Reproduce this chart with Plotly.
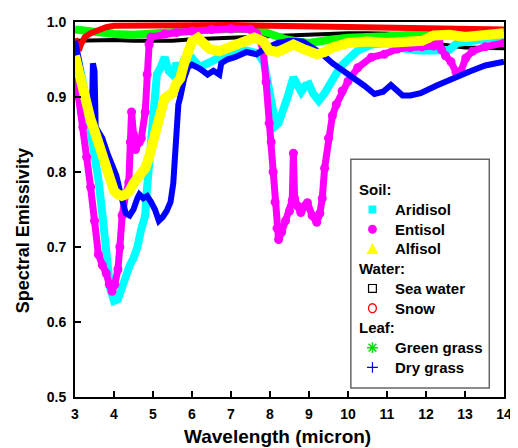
import plotly.graph_objects as go

# ---------------- data ----------------
aridisol_x = [3.0, 3.1, 3.2, 3.3, 3.4, 3.5, 3.6, 3.7, 3.8, 3.9, 4.0, 4.1, 4.2, 4.3, 4.4, 4.5, 4.6,
              4.7, 4.8, 4.85, 4.9, 4.95, 5.0, 5.1, 5.2, 5.3, 5.4, 5.5, 5.6, 5.7, 5.8, 6.0, 6.2,
              6.4, 6.6, 6.8, 7.0, 7.4, 7.7, 7.85, 7.95, 8.05, 8.15, 8.22, 8.3, 8.45, 8.6, 8.7,
              8.8, 8.9, 9.0, 9.1, 9.25, 9.4, 9.6, 9.8, 10.0, 10.25, 10.6, 11.0, 11.4, 11.8,
              12.2, 12.6, 12.8, 13.2, 13.6, 14.0]
aridisol_y = [0.96, 0.945, 0.92, 0.89, 0.86, 0.83, 0.79, 0.745, 0.69, 0.645, 0.628, 0.63, 0.645,
              0.663, 0.675, 0.685, 0.70, 0.724, 0.742, 0.78, 0.81, 0.85, 0.89, 0.93, 0.94, 0.953,
              0.935, 0.93, 0.945, 0.935, 0.95, 0.952, 0.94, 0.945, 0.95, 0.957, 0.96, 0.962,
              0.958, 0.945, 0.92, 0.895, 0.862, 0.865, 0.88, 0.90, 0.926, 0.915, 0.907, 0.915,
              0.917, 0.905, 0.895, 0.905, 0.925, 0.94, 0.95, 0.962, 0.97, 0.972, 0.965, 0.962,
              0.962, 0.963, 0.972, 0.976, 0.978, 0.98]

entisol_x = [3.0, 3.1, 3.2, 3.3, 3.4, 3.5, 3.6, 3.7, 3.8, 3.88, 3.95, 4.02, 4.1, 4.15, 4.21, 4.3,
             4.38, 4.42, 4.45, 4.5, 4.55, 4.65, 4.7, 4.8, 4.85, 4.9, 4.95, 5.3, 5.6, 6.0, 6.5,
             7.0, 7.5, 7.65, 7.75, 7.83, 7.9, 7.98, 8.03, 8.08, 8.13, 8.18, 8.22, 8.3, 8.4,
             8.5, 8.57, 8.6, 8.63, 8.7, 8.79, 8.9, 8.96, 9.08, 9.2, 9.28, 9.34, 9.4, 9.5, 9.6,
             9.7, 9.85, 10.0, 10.25, 10.6, 10.93, 11.26, 11.6, 11.9, 12.2, 12.33, 12.4, 12.5,
             12.64, 12.77, 12.9, 13.02, 13.19, 13.52, 14.0]
entisol_y = [0.935, 0.90, 0.86, 0.82, 0.78, 0.735, 0.69, 0.676, 0.665, 0.65, 0.641, 0.65, 0.67,
             0.70, 0.742, 0.77, 0.786, 0.84, 0.88, 0.85, 0.83, 0.84, 0.845, 0.88, 0.93, 0.97,
             0.98, 0.984, 0.986, 0.988, 0.99, 0.991, 0.99, 0.985, 0.975, 0.96, 0.92, 0.865,
             0.84, 0.80, 0.76, 0.725, 0.71, 0.72, 0.735, 0.748, 0.762, 0.825, 0.765, 0.755,
             0.746, 0.755, 0.759, 0.742, 0.733, 0.745, 0.765, 0.805, 0.845, 0.875, 0.89, 0.908,
             0.921, 0.939, 0.953, 0.957, 0.964, 0.966, 0.967, 0.968, 0.974, 0.963, 0.955,
             0.947, 0.933, 0.935, 0.952, 0.961, 0.967, 0.972]

alfisol_x = [3.0, 3.1, 3.2, 3.3, 3.4, 3.5, 3.6, 3.7, 3.8, 3.9, 4.0, 4.1, 4.2, 4.3, 4.4, 4.5, 4.6,
             4.7, 4.8, 4.9, 5.0, 5.1, 5.2, 5.3, 5.4, 5.5, 5.6, 5.7, 5.8, 5.9, 6.0, 6.15, 6.3,
             6.45, 6.7, 7.0, 7.3, 7.6, 7.83, 7.98, 8.2, 8.4, 8.6, 8.9, 9.2, 9.4, 9.6, 10.0,
             10.5, 11.0, 11.5, 11.9, 12.2, 12.6, 13.0, 13.5, 14.0]
alfisol_y = [0.955, 0.93, 0.905, 0.885, 0.87, 0.855, 0.84, 0.82, 0.80, 0.785, 0.775, 0.77,
             0.768, 0.77, 0.775, 0.785, 0.792, 0.798, 0.805, 0.82, 0.835, 0.86, 0.88, 0.898,
             0.902, 0.905, 0.918, 0.925, 0.945, 0.965, 0.974, 0.979, 0.972, 0.964, 0.961,
             0.967, 0.974, 0.979, 0.974, 0.962, 0.96, 0.964, 0.97, 0.963, 0.957, 0.96, 0.966,
             0.972, 0.974, 0.972, 0.973, 0.975, 0.982, 0.983, 0.98, 0.982, 0.985]

seawater_x = [3.0, 3.5, 4.0, 4.5, 5.0, 5.5, 6.0, 6.5, 7.0, 7.5, 8.0, 8.5, 9.0, 9.5, 10.0, 10.5,
              11.0, 11.5, 12.0, 12.4, 13.0, 13.5, 14.0]
seawater_y = [0.975, 0.976, 0.976, 0.975, 0.975, 0.975, 0.977, 0.978, 0.979, 0.98, 0.982, 0.983,
              0.984, 0.985, 0.985, 0.985, 0.985, 0.984, 0.978, 0.97, 0.966, 0.965, 0.965]

snow_x = [3.0, 3.05, 3.1, 3.15, 3.25, 3.4, 3.6, 3.8, 4.0, 5.0, 6.0, 7.0, 8.0, 9.0, 10.0, 11.0,
          12.0, 13.0, 14.0]
snow_y = [0.978, 0.968, 0.962, 0.97, 0.98, 0.985, 0.99, 0.993, 0.995, 0.996, 0.996, 0.996,
          0.995, 0.994, 0.993, 0.992, 0.991, 0.99, 0.99]

green_x = [3.0, 3.3, 3.6, 4.0, 4.5, 5.0, 5.5, 6.0, 6.5, 7.0, 7.5, 7.8, 8.1, 8.4, 8.7, 9.0, 9.5,
           10.0, 11.0, 12.0, 12.5, 13.0, 13.5, 14.0]
green_y = [0.99, 0.988, 0.986, 0.984, 0.983, 0.984, 0.986, 0.988, 0.99, 0.991, 0.991, 0.988,
           0.982, 0.977, 0.974, 0.972, 0.976, 0.979, 0.981, 0.985, 0.986, 0.986, 0.986, 0.986]

dry_x = [3.0, 3.05, 3.1, 3.2, 3.3, 3.38, 3.43, 3.46, 3.5, 3.53, 3.6, 3.7, 3.83, 3.95, 4.06, 4.15,
         4.22, 4.3, 4.4, 4.5, 4.6, 4.65, 4.75, 4.85, 4.95, 5.05, 5.15, 5.25, 5.35, 5.45, 5.52,
         5.56, 5.6, 5.65, 5.7, 5.8, 5.9, 6.0, 6.2, 6.4, 6.55, 6.7, 6.75, 6.9, 7.1, 7.4, 7.65,
         7.9, 8.2, 8.5, 8.84, 9.1, 9.34, 9.6, 9.92, 10.2, 10.42, 10.68, 10.9, 11.1, 11.25,
         11.4, 11.6, 11.86, 12.26, 12.69, 13.12, 13.52, 14.0]
dry_y = [0.975, 0.966, 0.95, 0.92, 0.90, 0.882, 0.87, 0.945, 0.935, 0.86, 0.855, 0.845, 0.825,
         0.81, 0.795, 0.775, 0.758, 0.745, 0.742, 0.75, 0.765, 0.77, 0.765, 0.768, 0.76, 0.75,
         0.735, 0.74, 0.748, 0.76, 0.785, 0.82, 0.86, 0.89, 0.90, 0.925, 0.94, 0.943, 0.938,
         0.93, 0.935, 0.93, 0.945, 0.95, 0.953, 0.96, 0.957, 0.965, 0.972, 0.975, 0.974,
         0.965, 0.957, 0.945, 0.934, 0.922, 0.915, 0.904, 0.907, 0.916, 0.91, 0.902, 0.902,
         0.905, 0.915, 0.925, 0.934, 0.942, 0.947]

x_ticks = [3, 4, 5, 6, 7, 8, 9, 10, 11, 12, 13, 14]
y_ticks = [0.5, 0.6, 0.7, 0.8, 0.9, 1.0]

# ---------------- figure ----------------
# The page body has an 8px margin, so the figure is placed at (8, 8) in the window.
OFF = 8
W, H = 518 - OFF, 448 - OFF
L, R, T, B = 75 - OFF, 512 - OFF, 17 - OFF, 397 - OFF
FONT = "Liberation Sans, Arial, sans-serif"


def px(xp):
    """window pixel x -> paper fraction"""
    return (xp - OFF - L) / (R - L)


def py(yp):
    """window pixel y -> paper fraction"""
    return (B - (yp - OFF)) / (B - T)


fig = go.Figure()

series = [
    ("Sea water", seawater_x, seawater_y, "#000000", 4, None),
    ("Green grass", green_x, green_y, "#00FF00", 8, None),
    ("Snow", snow_x, snow_y, "#FF0000", 6, None),
    ("Aridisol", aridisol_x, aridisol_y, "#00FFFF", 8, None),
    ("Entisol", entisol_x, entisol_y, "#FF00FF", 7, "circle"),
    ("Dry grass", dry_x, dry_y, "#0000FF", 6, None),
    ("Alfisol", alfisol_x, alfisol_y, "#FFFF00", 10, None),
]
for name, xs, ys, col, w, sym in series:
    if sym:
        fig.add_trace(go.Scatter(x=xs, y=ys, name=name, mode="lines+markers",
                                 line=dict(color=col, width=w),
                                 marker=dict(symbol=sym, size=9, color=col),
                                 showlegend=False, hoverinfo="skip"))
    else:
        fig.add_trace(go.Scatter(x=xs, y=ys, name=name, mode="lines",
                                 line=dict(color=col, width=w),
                                 showlegend=False, hoverinfo="skip"))

axis_common = dict(showgrid=False, zeroline=False, showline=True, linecolor="black",
                   linewidth=2, mirror=True, ticks="inside", ticklen=6, tickwidth=1.5,
                   tickcolor="black",
                   tickfont=dict(family=FONT, size=14, color="black", weight="bold"))
fig.update_xaxes(range=[3, 14], tickvals=x_ticks, ticktext=[str(v) for v in x_ticks],
                 ticklabelstandoff=3, **axis_common)
fig.update_yaxes(range=[0.5, 1.0], tickvals=y_ticks, ticktext=[f"{v:.1f}" for v in y_ticks],
                 ticklabelstandoff=4, **axis_common)

shapes = []
annotations = []

# axis titles
annotations.append(dict(text="Wavelength (micron)", xref="paper", yref="paper",
                        x=px(281), y=py(437), showarrow=False, xanchor="center", yanchor="middle",
                        font=dict(family=FONT, size=19, color="black", weight="bold")))
annotations.append(dict(text="Spectral Emissivity", xref="paper", yref="paper",
                        x=px(22), y=py(228), showarrow=False, xanchor="center", yanchor="middle",
                        textangle=-90,
                        font=dict(family=FONT, size=18, color="black", weight="bold")))

# legend box
shapes.append(dict(type="rect", xref="paper", yref="paper", x0=px(356), x1=px(497),
                   y0=py(388), y1=py(156), line=dict(color="#666666", width=1.5),
                   fillcolor="white", layer="above"))

rows = [
    ("Soil:", None), ("Aridisol", "sq"), ("Entisol", "ci"), ("Alfisol", "tri"),
    ("Water:", None), ("Sea water", "osq"), ("Snow", "oci"),
    ("Leaf:", None), ("Green grass", "ast"), ("Dry grass", "plus"),
]
y0row, dy = 187, 20
cx = 378
for i, (label, sym) in enumerate(rows):
    cy = y0row + i * dy
    if sym is None:
        annotations.append(dict(text=label, xref="paper", yref="paper", x=px(362), y=py(cy),
                                showarrow=False, xanchor="left", yanchor="middle",
                                font=dict(family=FONT, size=15, color="black", weight="bold")))
        continue
    annotations.append(dict(text=label, xref="paper", yref="paper", x=px(399), y=py(cy),
                            showarrow=False, xanchor="left", yanchor="middle",
                            font=dict(family=FONT, size=15, color="black", weight="bold")))
    if sym == "sq":
        shapes.append(dict(type="rect", xref="paper", yref="paper", x0=px(cx - 4), x1=px(cx + 4),
                           y0=py(cy + 4), y1=py(cy - 4), fillcolor="#00FFFF",
                           line=dict(width=0), layer="above"))
    elif sym == "ci":
        shapes.append(dict(type="circle", xref="paper", yref="paper", x0=px(cx - 4.5),
                           x1=px(cx + 4.5), y0=py(cy + 4.5), y1=py(cy - 4.5), fillcolor="#FF00FF",
                           line=dict(width=0), layer="above"))
    elif sym == "tri":
        path = (f"M {px(cx - 6)},{py(cy + 5)} L {px(cx + 6)},{py(cy + 5)} "
                f"L {px(cx)},{py(cy - 6)} Z")
        shapes.append(dict(type="path", xref="paper", yref="paper", path=path,
                           fillcolor="#FFFF00", line=dict(width=0), layer="above"))
    elif sym == "osq":
        shapes.append(dict(type="rect", xref="paper", yref="paper", x0=px(cx - 4), x1=px(cx + 4),
                           y0=py(cy + 4), y1=py(cy - 4), fillcolor="white",
                           line=dict(width=1.2, color="black"), layer="above"))
    elif sym == "oci":
        shapes.append(dict(type="circle", xref="paper", yref="paper", x0=px(cx - 4),
                           x1=px(cx + 4), y0=py(cy + 4.5), y1=py(cy - 4.5), fillcolor="white",
                           line=dict(width=1.3, color="#FF0000"), layer="above"))
    elif sym == "ast":
        r = 5.5
        d = r * 0.72
        path = (f"M {px(cx - r)},{py(cy)} L {px(cx + r)},{py(cy)} "
                f"M {px(cx)},{py(cy - r)} L {px(cx)},{py(cy + r)} "
                f"M {px(cx - d)},{py(cy - d)} L {px(cx + d)},{py(cy + d)} "
                f"M {px(cx - d)},{py(cy + d)} L {px(cx + d)},{py(cy - d)}")
        shapes.append(dict(type="path", xref="paper", yref="paper", path=path,
                           line=dict(width=1.5, color="#00DD00"), layer="above"))
    elif sym == "plus":
        r = 5.5
        path = (f"M {px(cx - r)},{py(cy)} L {px(cx + r)},{py(cy)} "
                f"M {px(cx)},{py(cy - r)} L {px(cx)},{py(cy + r)}")
        shapes.append(dict(type="path", xref="paper", yref="paper", path=path,
                           line=dict(width=1.2, color="#0000FF"), layer="above"))

fig.update_layout(width=W, height=H, margin=dict(l=L, r=W - R, t=T, b=H - B),
                  plot_bgcolor="white", paper_bgcolor="white",
                  shapes=shapes, annotations=annotations, showlegend=False)

fig.write_html("out.html")
